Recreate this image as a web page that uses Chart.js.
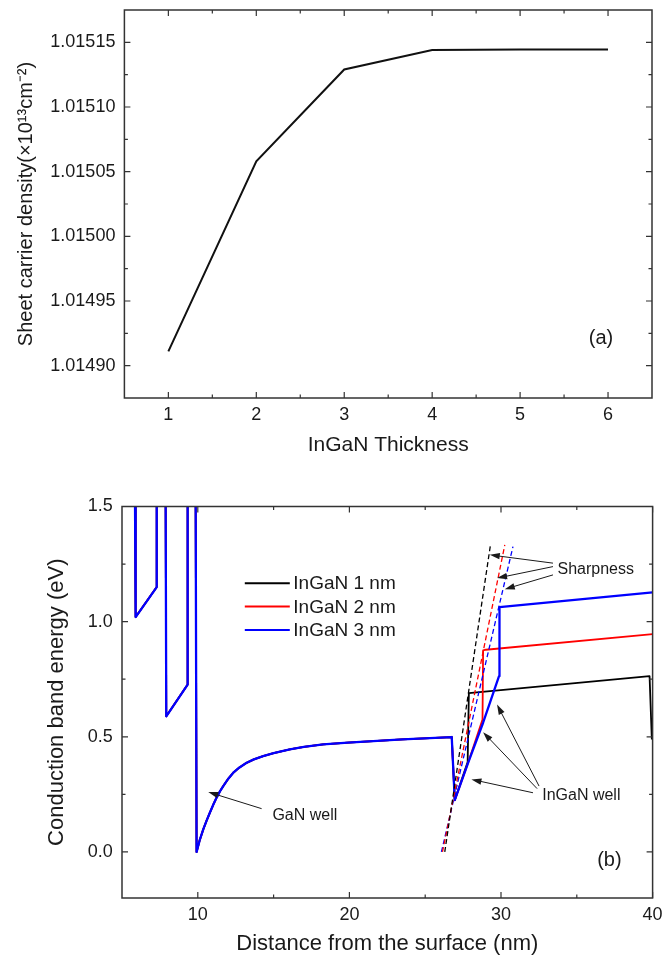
<!DOCTYPE html>
<html>
<head>
<meta charset="utf-8">
<script src="https://cdn.jsdelivr.net/npm/chart.js@4.4.1/dist/chart.umd.min.js"></script>
<style>
  html, body { margin: 0; padding: 0; background: #fff; }
  canvas { display: block; }
</style>
</head>
<body>
<canvas id="densityChart" width="671" height="470"></canvas>
<canvas id="bandChart" width="671" height="488"></canvas>
<script>
// (a) sheet carrier density against InGaN thickness
const thickness = [1, 2, 3, 4, 5, 6];
const sheetDensity = [1.014911, 1.015058, 1.015129, 1.015144, 1.0151445, 1.0151445];
const densityTicks = [1.0149, 1.01495, 1.015, 1.01505, 1.0151, 1.01515];

// (b) conduction band profile. The GaN part is the same for all three wells,
// null marks where the curve leaves the top of the plot
const gaNDepth  = [5.86, 5.9, 7.29, 7.29, 7.6, 7.88, 7.92, 9.33, 9.33, 9.6, 9.86, 9.92,
                   10.12, 10.36, 10.58, 10.8, 11.02, 11.24, 11.46, 11.68, 12.0, 12.34, 12.75, 13.22,
                   13.7, 14.31, 15.0, 16.07, 17.0, 18.27, 19.9, 21.57, 23.5, 26.75, 26.95];
const gaNEnergy = [1.5, 1.02, 1.15, 1.5, null, 1.5, 0.589, 0.727, 1.5, null, 1.5, 0.0,
                   0.05, 0.098, 0.136, 0.171, 0.205, 0.236, 0.263, 0.286, 0.317, 0.344, 0.367, 0.387,
                   0.402, 0.416, 0.429, 0.445, 0.456, 0.467, 0.475, 0.481, 0.489, 0.499, 0.225];

const well1Depth  = [27.8, 27.88, 39.8, 39.95];
const well1Energy = [0.39, 0.69, 0.763, 0.488];
const well2Depth  = [27.83, 28.78, 28.82, 29.0, 40];
const well2Energy = [0.387, 0.575, 0.875, 0.878, 0.946];
const well3Depth  = [27.83, 28.82, 29.87, 29.9, 40];
const well3Energy = [0.387, 0.561, 0.763, 1.063, 1.127];

// dashed "sharpness" guide lines
const sharp1Depth = [26.29, 29.32], sharp1Energy = [0.0, 1.34];
const sharp2Depth = [26.14, 30.25], sharp2Energy = [0.0, 1.333];
const sharp3Depth = [26.07, 30.79], sharp3Energy = [0.0, 1.326];

const wellLabels = ['InGaN 1 nm', 'InGaN 2 nm', 'InGaN 3 nm'];
const bandXTicks = [10, 20, 30, 40];
const bandYTicks = [0, 0.5, 1.0, 1.5];

const FONT = '"Liberation Sans", Arial, sans-serif';
Chart.defaults.font.family = FONT;
Chart.defaults.color = '#1a1a1a';

const pts = (xs, ys) => xs.map((v, i) => ({ x: v, y: ys[i] }));

// box round the plot with inward ticks on all four sides
const frameTicks = {
  id: 'frameTicks',
  afterDraw(chart) {
    const { ctx, chartArea: a, scales: { x, y } } = chart;
    ctx.save();
    ctx.strokeStyle = '#333';
    ctx.lineWidth = 1.5;
    ctx.strokeRect(a.left, a.top, a.right - a.left, a.bottom - a.top);
    ctx.lineWidth = 1.2;
    const mark = (s, v, len) => {
      const p = s.getPixelForValue(v);
      ctx.beginPath();
      if (s.isHorizontal()) {
        ctx.moveTo(p, a.bottom); ctx.lineTo(p, a.bottom - len);
        ctx.moveTo(p, a.top); ctx.lineTo(p, a.top + len);
      } else {
        ctx.moveTo(a.left, p); ctx.lineTo(a.left + len, p);
        ctx.moveTo(a.right, p); ctx.lineTo(a.right - len, p);
      }
      ctx.stroke();
    };
    [x, y].forEach(s => {
      const vals = s.ticks.map(t => t.value);
      const step = vals[1] - vals[0];
      vals.forEach(v => mark(s, v, 6));
      [vals[0] - step / 2, ...vals.map(v => v + step / 2)].forEach(v => {
        if (v > s.min + 1e-9 && v < s.max - 1e-9) mark(s, v, 3.5);
      });
    });
    ctx.restore();
  }
};

// texts, arrows and the little legend
const notes = {
  id: 'notes',
  afterDatasetsDraw(chart, args, opts) {
    const { ctx, scales: { x, y } } = chart;
    ctx.save();
    ctx.fillStyle = '#1a1a1a';
    ctx.strokeStyle = '#1a1a1a';
    (opts.texts || []).forEach(t => {
      ctx.font = t.size + 'px ' + FONT;
      ctx.textAlign = 'center';
      ctx.textBaseline = 'middle';
      ctx.fillText(t.text, x.getPixelForValue(t.x), y.getPixelForValue(t.y));
    });
    (opts.arrows || []).forEach(([x0, y0, x1, y1]) => {
      const ax = x.getPixelForValue(x0), ay = y.getPixelForValue(y0);
      const bx = x.getPixelForValue(x1), by = y.getPixelForValue(y1);
      const ang = Math.atan2(by - ay, bx - ax);
      const c = Math.cos(ang), s = Math.sin(ang);
      ctx.lineWidth = 1;
      ctx.beginPath();
      ctx.moveTo(ax, ay);
      ctx.lineTo(bx - 6 * c, by - 6 * s);
      ctx.stroke();
      ctx.beginPath();
      ctx.moveTo(bx, by);
      ctx.lineTo(bx - 10 * c + 3.2 * s, by - 10 * s - 3.2 * c);
      ctx.lineTo(bx - 10 * c - 3.2 * s, by - 10 * s + 3.2 * c);
      ctx.closePath();
      ctx.fill();
    });
    if (opts.legend) {
      const lg = opts.legend;
      const lx = x.getPixelForValue(lg.x), ly = y.getPixelForValue(lg.y);
      ctx.font = lg.size + 'px ' + FONT;
      ctx.textAlign = 'left';
      ctx.textBaseline = 'middle';
      chart.data.datasets.filter(d => d.inLegend).forEach((d, i) => {
        const yy = ly + i * lg.gap;
        ctx.strokeStyle = d.borderColor;
        ctx.lineWidth = 2;
        ctx.beginPath();
        ctx.moveTo(lx, yy);
        ctx.lineTo(lx + 45, yy);
        ctx.stroke();
        ctx.fillStyle = '#1a1a1a';
        ctx.fillText(d.label, lx + 48.5, yy + 1);
      });
    }
    ctx.restore();
  }
};

const fixSize = (w, h) => s => {
  if (w != null) s.width = w;
  if (h != null) s.height = h;
  s.paddingTop = s.paddingBottom = s.paddingLeft = s.paddingRight = 0;
};

new Chart(document.getElementById('densityChart'), {
  type: 'line',
  data: {
    datasets: [{
      data: pts(thickness, sheetDensity),
      borderColor: '#111',
      borderWidth: 2,
      pointRadius: 0,
      tension: 0,
    }],
  },
  options: {
    responsive: false,
    animation: false,
    devicePixelRatio: 1,
    layout: { padding: { left: 0, top: 10, right: 19, bottom: 0 } },
    plugins: {
      legend: { display: false },
      tooltip: { enabled: false },
      notes: { texts: [{ text: '(a)', x: 5.92, y: 1.0149214, size: 20 }] },
    },
    scales: {
      x: {
        type: 'linear',
        min: 0.5,
        max: 6.5,
        afterBuildTicks: s => { s.ticks = thickness.map(v => ({ value: v })); },
        afterFit: fixSize(null, 72),
        grid: { display: false, drawTicks: false },
        border: { display: false },
        ticks: { font: { size: 18 }, padding: 6, color: '#1a1a1a' },
        title: { display: true, text: 'InGaN Thickness', font: { size: 21 }, padding: { top: 0, bottom: 12.4 } },
      },
      y: {
        min: 1.014875,
        max: 1.015175,
        afterBuildTicks: s => { s.ticks = densityTicks.map(v => ({ value: v })); },
        afterFit: fixSize(124.4, null),
        grid: { display: false, drawTicks: false },
        border: { display: false },
        ticks: { font: { size: 18 }, padding: 9, color: '#1a1a1a', callback: v => v.toFixed(5) },
        title: { display: true, text: 'Sheet carrier density(×10¹³cm⁻²)', font: { size: 20 }, padding: { top: 14, bottom: 0 } },
      },
    },
  },
  plugins: [frameTicks, notes],
});

new Chart(document.getElementById('bandChart'), {
  type: 'line',
  data: {
    datasets: [
      { label: wellLabels[0], inLegend: true, data: pts([...gaNDepth, ...well1Depth], [...gaNEnergy, ...well1Energy]), borderColor: '#000000', borderWidth: 1.8, order: 3 },
      { label: wellLabels[1], inLegend: true, data: pts([...gaNDepth, ...well2Depth], [...gaNEnergy, ...well2Energy]), borderColor: '#ff0000', borderWidth: 1.8, order: 2 },
      { label: wellLabels[2], inLegend: true, data: pts([...gaNDepth, ...well3Depth], [...gaNEnergy, ...well3Energy]), borderColor: '#0000ff', borderWidth: 2.3, order: 1 },
      { data: pts(sharp1Depth, sharp1Energy), borderColor: '#000000', borderDash: [5, 3], borderWidth: 1.3, order: 0 },
      { data: pts(sharp2Depth, sharp2Energy), borderColor: '#ff0000', borderDash: [5, 3], borderWidth: 1.3, order: 0 },
      { data: pts(sharp3Depth, sharp3Energy), borderColor: '#0000ff', borderDash: [5, 3], borderWidth: 1.3, order: 0 },
    ],
  },
  options: {
    responsive: false,
    animation: false,
    devicePixelRatio: 1,
    spanGaps: false,
    elements: { point: { radius: 0 }, line: { borderWidth: 2, tension: 0, borderJoinStyle: 'round' } },
    layout: { padding: { left: 0, top: 36.5, right: 18.4, bottom: 0 } },
    plugins: {
      legend: { display: false },
      tooltip: { enabled: false },
      notes: {
        texts: [
          { text: '(b)', x: 37.15, y: -0.039, size: 20 },
          { text: 'GaN well', x: 17.06, y: 0.156, size: 16 },
          { text: 'InGaN well', x: 35.3, y: 0.243, size: 16 },
          { text: 'Sharpness', x: 36.25, y: 1.228, size: 16 },
        ],
        arrows: [
          [14.21, 0.188, 10.69, 0.260],
          [32.11, 0.257, 28.05, 0.315],
          [32.38, 0.275, 28.82, 0.52],
          [32.51, 0.286, 29.74, 0.64],
          [33.43, 1.254, 29.26, 1.290],
          [33.43, 1.239, 29.74, 1.189],
          [33.43, 1.203, 30.25, 1.141],
        ],
        legend: { x: 13.1, y: 1.167, gap: 23.4, size: 19 },
      },
    },
    scales: {
      x: {
        type: 'linear',
        min: 5,
        max: 40,
        afterBuildTicks: s => { s.ticks = bandXTicks.map(v => ({ value: v })); },
        afterFit: fixSize(null, 60),
        grid: { display: false, drawTicks: false },
        border: { display: false },
        ticks: { font: { size: 18 }, padding: 6, color: '#1a1a1a' },
        title: { display: true, text: 'Distance from the surface (nm)', font: { size: 22 }, padding: { top: 0, bottom: 1 } },
      },
      y: {
        min: -0.2,
        max: 1.5,
        afterBuildTicks: s => { s.ticks = bandYTicks.map(v => ({ value: v })); },
        afterFit: fixSize(122, null),
        grid: { display: false, drawTicks: false },
        border: { display: false },
        ticks: { font: { size: 18 }, padding: 9.3, color: '#1a1a1a', callback: v => v.toFixed(1) },
        title: { display: true, text: 'Conduction band energy (eV)', font: { size: 22 }, padding: { top: 43.5, bottom: 0 } },
      },
    },
  },
  plugins: [frameTicks, notes],
});
</script>
</body>
</html>
